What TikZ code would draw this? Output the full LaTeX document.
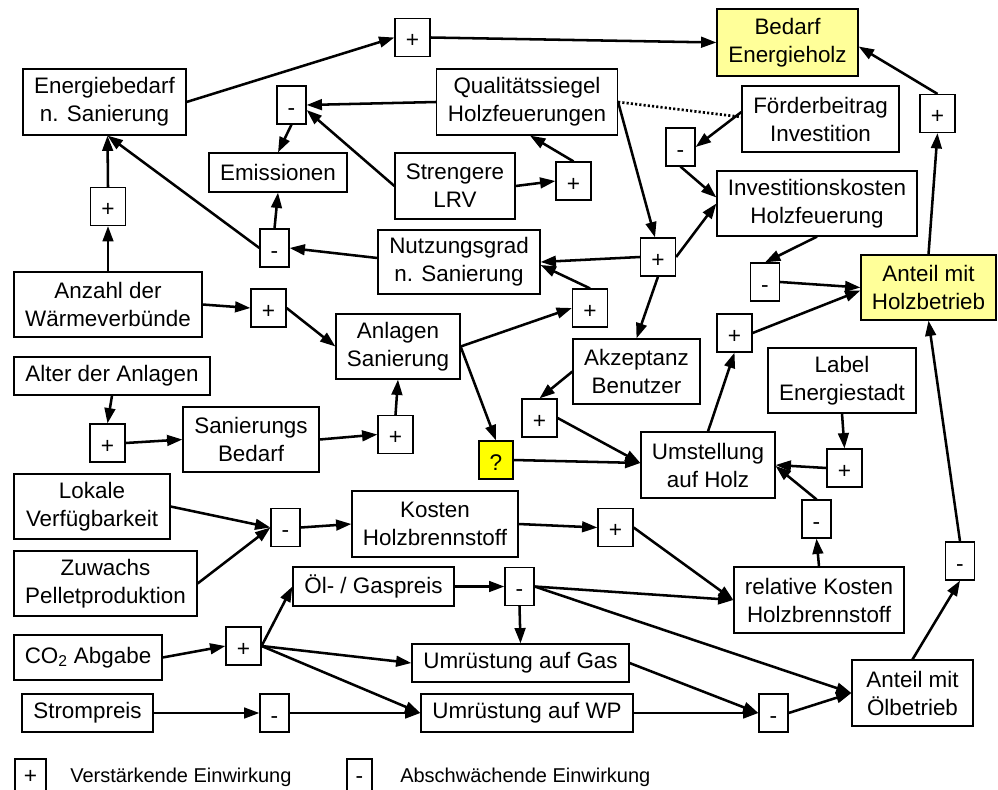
\documentclass[tikz,border=0pt]{standalone}
\usepackage{fontspec}
\setmainfont{Liberation Sans}
\usetikzlibrary{arrows.meta,calc}
\definecolor{lyel}{HTML}{FFFF99}
\definecolor{byel}{HTML}{FFFF00}
\begin{document}
\begin{tikzpicture}[x=0.75pt,y=-0.75pt,
  box/.style 2 args={draw,line width=0.9pt,inner sep=0pt,align=center,minimum width={#1*0.75pt},minimum height={#2*0.75pt},font=\fontsize{16.8}{21}\selectfont},
  sgn/.style 2 args={draw,line width=0.9pt,inner sep=0pt,text height=15pt,text depth=0pt,minimum width={#1*0.75pt},minimum height={#2*0.75pt},font=\fontsize{17}{20}\selectfont},
  plusbox/.style={sgn={35}{38}},
  minusbox/.style={sgn={29}{38}},
  legsign/.style={text height=12.5pt},
  arr/.style={line width=1.9pt,-{Triangle[length=11.5pt,width=8pt]}},
  dotline/.style={line width=2pt,dash pattern=on 1.6pt off 1.6pt},
  legtext/.style={anchor=base west,inner sep=0pt,font=\fontsize{15}{18}\selectfont}
]
\useasboundingbox (0,0) rectangle (998,789);
% main boxes
\node[box={163}{66}] (eb) at (104.5,102) {Energiebedarf\\n. Sanierung};
\node[box={141}{67},fill=lyel] (bed) at (787.5,42.5) {Bedarf\\Energieholz};
\node[box={181}{66}] (qs) at (527,102) {Qualitätssiegel\\Holzfeuerungen};
\node[box={157}{66}] (fb) at (820.5,119) {Förderbeitrag\\Investition};
\node[box={138}{39}] (em) at (278,172.5) {Emissionen};
\node[box={120}{66}] (lrv) at (455,186) {Strengere\\LRV};
\node[box={200}{65}] (ik) at (817,203.5) {Investitionskosten\\Holzfeuerung};
\node[box={162}{64}] (ng) at (459,262) {Nutzungsgrad\\n. Sanierung};
\node[box={188}{65}] (az) at (108,304.5) {Anzahl der\\Wärmeverbünde};
\node[box={135}{65},fill=lyel] (ah) at (928.5,287.5) {Anteil mit\\Holzbetrieb};
\node[box={124}{65}] (as) at (398,346.5) {Anlagen\\Sanierung};
\node[box={127}{65}] (ak) at (636.5,371.5) {Akzeptanz\\Benutzer};
\node[box={196}{38}] (al) at (112,376) {Alter der Anlagen};
\node[box={148}{65}] (le) at (842,380.5) {Label\\Energiestadt};
\node[box={136}{65}] (sb) at (251,439.5) {Sanierungs\\Bedarf};
\node[sgn={34}{38},fill=byel] (q) at (496,460) {?};
\node[box={134}{66}] (um) at (708,465) {Umstellung\\auf Holz};
\node[box={156}{65}] (lv) at (92,506.5) {Lokale\\Verfügbarkeit};
\node[box={166}{66}] (kh) at (435,524) {Kosten\\Holzbrennstoff};
\node[box={183}{65}] (zp) at (105.5,583.5) {Zuwachs\\Pelletproduktion};
\node[box={161}{39}] (og) at (373.5,586.5) {Öl- / Gaspreis};
\node[box={170}{66}] (rk) at (819,600) {relative Kosten\\Holzbrennstoff};
\node[box={148}{45}] (co) at (88,657.5) {CO\textsubscript{2} Abgabe};
\node[box={217}{38}] (gas) at (520.5,663) {Umrüstung auf Gas};
\node[box={131}{38}] (st) at (87.5,713) {Strompreis};
\node[box={212}{38}] (wp) at (527,713) {Umrüstung auf WP};
\node[box={121}{66}] (ao) at (912.5,693) {Anteil mit\\Ölbetrieb};
% sign boxes
\node[plusbox] (p1) at (412.5,37.5) {+};
\node[minusbox] (m1) at (291.5,105) {-};
\node[plusbox] (p2) at (108,206.5) {+};
\node[minusbox] (m2) at (274.5,248) {-};
\node[plusbox] (p8) at (573.5,181) {+};
\node[minusbox] (m3) at (680.5,147) {-};
\node[plusbox] (p9) at (937.5,113.5) {+};
\node[plusbox] (p7) at (658,257) {+};
\node[plusbox] (p3) at (268.5,308) {+};
\node[plusbox] (p6) at (590,308) {+};
\node[minusbox] (m4) at (765,282) {-};
\node[plusbox] (p10) at (734.5,333) {+};
\node[plusbox] (p11) at (539.5,418) {+};
\node[plusbox] (p4) at (107.5,443) {+};
\node[plusbox] (p5) at (395.5,434.5) {+};
\node[plusbox] (p12) at (844.5,468) {+};
\node[minusbox] (m5) at (816.5,519) {-};
\node[minusbox] (m6) at (285.5,527.5) {-};
\node[plusbox] (p13) at (615.5,527.5) {+};
\node[minusbox] (m7) at (519.5,586.5) {-};
\node[minusbox] (m10) at (960,561) {-};
\node[plusbox] (p14) at (243.5,646) {+};
\node[minusbox] (m8) at (274.5,713) {-};
\node[minusbox] (m9) at (773.5,713) {-};
% legend
\node[sgn={31}{32},legsign] (lp) at (30.5,775) {+};
\node[sgn={25}{32},legsign] (lm) at (359.5,775) {-};
\node[legtext] (lpt) at (70,782) {Verstärkende Einwirkung};
\node[legtext] (lmt) at (400,782) {Abschwächende Einwirkung};
% connectors
\draw[arr] (eb.east) -- (p1.west);
\draw[arr] (p1.east) -- (bed.west);
\draw[arr] (qs.west) -- (m1.east);
\draw[arr] (lrv.west) -- ($(m1.east)+(0,5)$);
\draw[arr] (m1.south) -- (em.north);
\draw[arr] (m2.north) -- (em.south);
\draw[arr] (m2.west) -- ($(eb.south)+(3,0)$);
\draw[arr] ($(ng.west)+(0,-4)$) -- (m2.east);
\draw[arr] (p2.north) -- ($(eb.south)+(3,0)$);
\draw[arr] (az.north) -- (p2.south);
\draw[arr] (az.east) -- (p3.west);
\draw[arr] (p3.east) -- (as.west);
\draw[arr] (al.south) -- (p4.north);
\draw[arr] (p4.east) -- (sb.west);
\draw[arr] (sb.east) -- (p5.west);
\draw[arr] (p5.north) -- (as.south);
\draw[arr] (as.east) -- (p6.west);
\draw[arr] (as.east) -- (q.north);
\draw[arr] (p6.north) -- ($(ng.east)+(0,3)$);
\draw[arr] (p7.west) -- (ng.east);
\draw[arr] (qs.east) -- ($(p7.north)+(-3,0)$);
\draw[arr] (p7.east) -- (ik.west);
\draw[arr] (p7.south) -- (ak.north);
\draw[arr] (lrv.east) -- (p8.west);
\draw[arr] (p8.north) -- ($(qs.south)+(3,0)$);
\draw[dotline] (qs.east) -- ($(fb.west)+(0,-2)$);
\draw[arr] ($(fb.west)+(0,-7)$) -- (m3.east);
\draw[arr] (m3.south) -- ($(ik.west)+(0,-6)$);
\draw[arr] (ik.south) -- (m4.north);
\draw[arr] (m4.east) -- (ah.west);
\draw[arr] (ah.north) -- (p9.south);
\draw[arr] (p9.north) -- ($(bed.east)+(0,4)$);
\draw[arr] (p10.east) -- ($(ah.west)+(0,3)$);
\draw[arr] (um.north) -- (p10.south);
\draw[arr] (ak.west) -- (p11.north);
\draw[arr] (p11.east) -- ($(um.west)+(0,-2)$);
\draw[arr] (q.east) -- ($(um.west)+(0,-2)$);
\draw[arr] (le.south) -- (p12.north);
\draw[arr] (p12.west) -- (um.east);
\draw[arr] (m5.north) -- ($(um.east)+(0,1)$);
\draw[arr] (rk.north) -- (m5.south);
\draw[arr] (lv.east) -- (m6.west);
\draw[arr] (zp.east) -- (m6.west);
\draw[arr] (m6.east) -- (kh.west);
\draw[arr] (kh.east) -- (p13.west);
\draw[arr] (p13.east) -- (rk.west);
\draw[arr] (og.east) -- (m7.west);
\draw[arr] (m7.east) -- (rk.west);
\draw[arr] (m7.east) -- (ao.west);
\draw[arr] (m7.south) -- (gas.north);
\draw[arr] (co.east) -- (p14.west);
\draw[arr] (p14.east) -- (og.west);
\draw[arr] (p14.east) -- (gas.west);
\draw[arr] (p14.east) -- (wp.west);
\draw[arr] (st.east) -- (m8.west);
\draw[arr] (m8.east) -- (wp.west);
\draw[arr] (gas.east) -- (m9.west);
\draw[arr] (wp.east) -- (m9.west);
\draw[arr] (m9.east) -- (ao.west);
\draw[arr] (ao.north) -- (m10.south);
\draw[arr] (m10.north) -- (ah.south);
\end{tikzpicture}
\end{document}
